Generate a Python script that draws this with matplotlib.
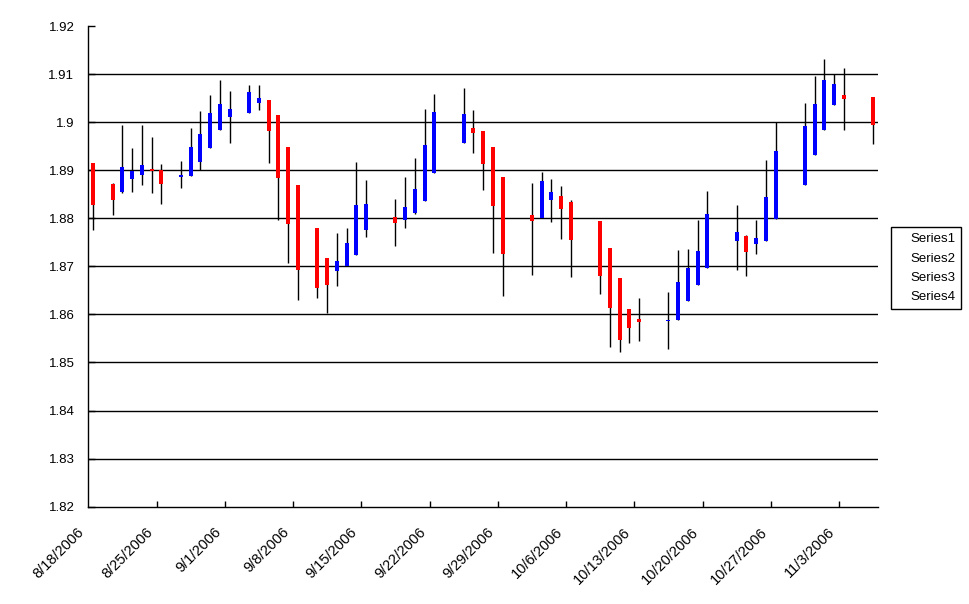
import numpy as np
import pandas as pd
import matplotlib
matplotlib.use("Agg")
import matplotlib.pyplot as plt
import matplotlib.dates as mdates
import matplotlib.transforms as mtransforms
from matplotlib.lines import Line2D

plt.rcParams['font.family'] = ['Liberation Sans', 'DejaVu Sans']

# daily open / high / low / close
dates = ["2006-08-18", "2006-08-20", "2006-08-21", "2006-08-22", "2006-08-23", "2006-08-24", "2006-08-25",
         "2006-08-27", "2006-08-28", "2006-08-29", "2006-08-30", "2006-08-31", "2006-09-01",
         "2006-09-03", "2006-09-04", "2006-09-05", "2006-09-06", "2006-09-07", "2006-09-08",
         "2006-09-10", "2006-09-11", "2006-09-12", "2006-09-13", "2006-09-14", "2006-09-15",
         "2006-09-18", "2006-09-19", "2006-09-20", "2006-09-21", "2006-09-22",
         "2006-09-25", "2006-09-26", "2006-09-27", "2006-09-28", "2006-09-29",
         "2006-10-02", "2006-10-03", "2006-10-04", "2006-10-05", "2006-10-06",
         "2006-10-09", "2006-10-10", "2006-10-11", "2006-10-12", "2006-10-13",
         "2006-10-16", "2006-10-17", "2006-10-18", "2006-10-19", "2006-10-20",
         "2006-10-23", "2006-10-24", "2006-10-25", "2006-10-26", "2006-10-27",
         "2006-10-30", "2006-10-31", "2006-11-01", "2006-11-02", "2006-11-03",
         "2006-11-06"]

opens = [1.8915, 1.8872, 1.8855, 1.8882, 1.8890, 1.8903, 1.8901,
         1.8886, 1.8888, 1.8917, 1.8947, 1.8984, 1.9011,
         1.9019, 1.9040, 1.9047, 1.9015, 1.8949, 1.8869,
         1.8780, 1.8717, 1.8690, 1.8701, 1.8724, 1.8776,
         1.8803, 1.8797, 1.8811, 1.8836, 1.8894,
         1.8957, 1.8988, 1.8982, 1.8949, 1.8886,
         1.8807, 1.8801, 1.8838, 1.8847, 1.8834,
         1.8794, 1.8738, 1.8676, 1.8611, 1.8590,
         1.8587, 1.8588, 1.8628, 1.8661, 1.8697,
         1.8753, 1.8763, 1.8746, 1.8752, 1.8799,
         1.8869, 1.8931, 1.8983, 1.9035, 1.9056,
         1.9052]

highs = [1.8915, 1.8874, 1.8994, 1.8947, 1.8994, 1.8969, 1.8913,
         1.8919, 1.8988, 1.9024, 1.9057, 1.9088, 1.9065,
         1.9078, 1.9078, 1.9047, 1.9015, 1.8949, 1.8869,
         1.8780, 1.8717, 1.8769, 1.8780, 1.8917, 1.8880,
         1.8840, 1.8886, 1.8926, 1.9028, 1.9059,
         1.9072, 1.9026, 1.8982, 1.8949, 1.8886,
         1.8874, 1.8897, 1.8882, 1.8867, 1.8838,
         1.8794, 1.8738, 1.8676, 1.8611, 1.8634,
         1.8647, 1.8734, 1.8736, 1.8797, 1.8857,
         1.8828, 1.8765, 1.8796, 1.8921, 1.9000,
         1.9040, 1.9096, 1.9131, 1.9100, 1.9113,
         1.9052]

lows = [1.8776, 1.8806, 1.8853, 1.8855, 1.8869, 1.8853, 1.8830,
        1.8863, 1.8888, 1.8901, 1.8947, 1.8984, 1.8957,
        1.9019, 1.9026, 1.8915, 1.8797, 1.8707, 1.8630,
        1.8634, 1.8603, 1.8659, 1.8701, 1.8724, 1.8761,
        1.8742, 1.8780, 1.8809, 1.8836, 1.8894,
        1.8957, 1.8936, 1.8859, 1.8728, 1.8638,
        1.8682, 1.8801, 1.8792, 1.8757, 1.8678,
        1.8642, 1.8532, 1.8522, 1.8540, 1.8544,
        1.8528, 1.8588, 1.8628, 1.8661, 1.8697,
        1.8692, 1.8679, 1.8725, 1.8752, 1.8799,
        1.8869, 1.8931, 1.8983, 1.9035, 1.8983,
        1.8954]

closes = [1.8828, 1.8837, 1.8907, 1.8899, 1.8911, 1.8899, 1.8872,
          1.8890, 1.8949, 1.8976, 1.9019, 1.9038, 1.9028,
          1.9063, 1.9051, 1.8982, 1.8884, 1.8788, 1.8692,
          1.8655, 1.8661, 1.8711, 1.8749, 1.8828, 1.8830,
          1.8790, 1.8824, 1.8861, 1.8953, 1.9022,
          1.9017, 1.8978, 1.8913, 1.8826, 1.8726,
          1.8794, 1.8878, 1.8855, 1.8819, 1.8755,
          1.8680, 1.8613, 1.8547, 1.8572, 1.8584,
          1.8589, 1.8667, 1.8697, 1.8732, 1.8809,
          1.8772, 1.8730, 1.8758, 1.8844, 1.8940,
          1.8992, 1.9038, 1.9088, 1.9079, 1.9048,
          1.8994]

series_names = ["Series1", "Series2", "Series3", "Series4"]

df = pd.DataFrame({"date": pd.to_datetime(dates), "open": opens, "high": highs,
                   "low": lows, "close": closes})
x = mdates.date2num(df["date"]) + 0.5  # candle sits in the middle of its day
up = df["close"] >= df["open"]
body_lo = np.minimum(df["open"], df["close"])
body_h = np.maximum(np.abs(df["close"] - df["open"]), 0.0002)

fig = plt.figure(figsize=(9.7, 6.04), dpi=100)
ax = fig.add_axes([88.3/970, 1 - 506.7/604, (878 - 88.3)/970, (506.7 - 26)/604])

yt = np.round(np.arange(1.82, 1.9201, 0.01), 2)
for v in yt[1:-1]:
    ax.axhline(v, color="black", lw=1.0, zorder=1)

ax.vlines(x, df["low"], df["high"], color="black", lw=1.0, zorder=2)
ax.bar(x[up], body_h[up], bottom=body_lo[up], width=0.42, color="#0000ff", lw=0, zorder=3)
ax.bar(x[~up], body_h[~up], bottom=body_lo[~up], width=0.42, color="#ff0000", lw=0, zorder=3)

ax.set_ylim(1.82, 1.92)
ax.set_yticks(yt)
ax.set_yticklabels([f"{v:g}" for v in yt])

start = mdates.date2num(pd.Timestamp("2006-08-18"))
end = mdates.date2num(pd.Timestamp("2006-11-07"))
ax.set_xlim(start, end)
xt = np.arange(start, end, 7)
ax.set_xticks(xt)
ax.set_xticklabels([f"{d.month}/{d.day}/{d.year}" for d in mdates.num2date(xt)],
                   rotation=45, ha="right", va="top", rotation_mode="anchor", fontsize=10.5)

for s in ["top", "right"]:
    ax.spines[s].set_visible(False)
for s in ["left", "bottom"]:
    ax.spines[s].set_linewidth(1.0)
ax.tick_params(axis="y", direction="in", length=5, width=1, labelsize=9.5, pad=10)
ax.tick_params(axis="x", direction="in", length=4, width=1, pad=13)
ax.xaxis.get_major_ticks()[0].tick1line.set_visible(False)

# nudge date labels left so they end just before their tick
shift = mtransforms.ScaledTranslation(-0.11, 0, fig.dpi_scale_trans)
for lab in ax.get_xticklabels():
    lab.set_transform(lab.get_transform() + shift)

handles = [Line2D([], [], linestyle="none") for _ in series_names]
fig.legend(handles, series_names, loc="upper left",
           bbox_to_anchor=(891/970, 1 - 227/604), fancybox=False, edgecolor="black",
           framealpha=1, fontsize=9.5, handlelength=0.6, handletextpad=0.4,
           borderpad=0.45, labelspacing=0.54, borderaxespad=0)

fig.savefig("out.png", dpi=100)
